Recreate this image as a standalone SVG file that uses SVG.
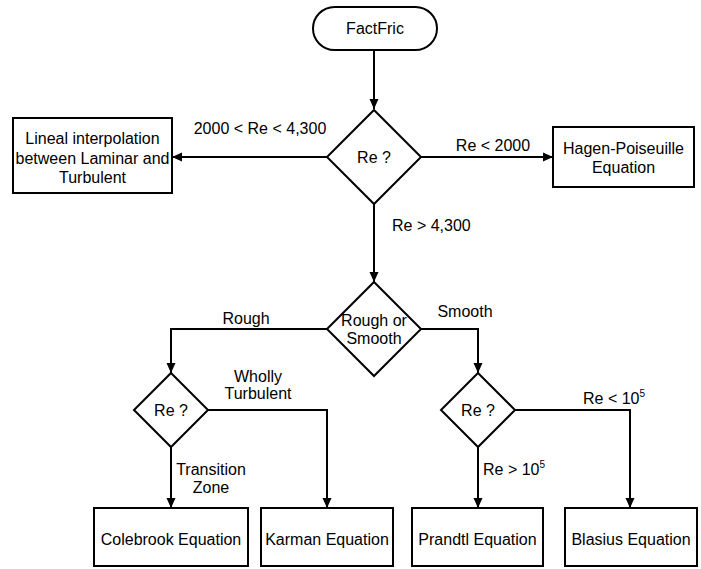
<svg xmlns="http://www.w3.org/2000/svg" width="701" height="569" viewBox="0 0 701 569">
<defs>
<style>
.s{fill:#fff;stroke:#000;stroke-width:2}
.c{fill:none;stroke:#000;stroke-width:2}
text{font-family:"Liberation Sans",Arial,sans-serif;font-size:16px;fill:#000}
.m{text-anchor:middle}
</style>
<marker id="ah" markerUnits="userSpaceOnUse" markerWidth="11" markerHeight="10" refX="10" refY="5" orient="auto">
<path d="M0,0.5 L10,5 L0,9.5 z" fill="#000"/>
</marker>
</defs>
<rect width="701" height="569" fill="#fff"/>
<g id="connectors">
<path class="c" d="M374,50 V109" marker-end="url(#ah)"/>
<path class="c" d="M327,157 H172" marker-end="url(#ah)"/>
<path class="c" d="M421,157 H553" marker-end="url(#ah)"/>
<path class="c" d="M374,204 V282" marker-end="url(#ah)"/>
<path class="c" d="M327,329 H171 V373" marker-end="url(#ah)"/>
<path class="c" d="M421,329 H478 V373" marker-end="url(#ah)"/>
<path class="c" d="M171,447 V508" marker-end="url(#ah)"/>
<path class="c" d="M208,410 H327 V508" marker-end="url(#ah)"/>
<path class="c" d="M478,447 V508" marker-end="url(#ah)"/>
<path class="c" d="M514,410 H630 V508" marker-end="url(#ah)"/>
<text x="260" y="134" class="m">2000 &lt; Re &lt; 4,300</text>
<text x="493" y="151" class="m">Re &lt; 2000</text>
<text x="392" y="231">Re &gt; 4,300</text>
<text x="246" y="324" class="m">Rough</text>
<text x="465" y="317" class="m">Smooth</text>
<text x="258" y="382" class="m">Wholly</text>
<text x="258" y="399" class="m">Turbulent</text>
<text x="211" y="475" class="m">Transition</text>
<text x="211" y="493" class="m">Zone</text>
<text x="483" y="475">Re &gt; 10<tspan font-size="10" dy="-7">5</tspan></text>
<text x="583" y="404">Re &lt; 10<tspan font-size="10" dy="-7">5</tspan></text>
</g>
<g id="start">
<rect class="s" x="313" y="7" width="124" height="43" rx="21.5"/>
<text x="375" y="34" class="m">FactFric</text>
</g>
<g id="re1">
<polygon class="s" points="374,110 421,157 374,204 327,157"/>
<text x="374" y="163" class="m">Re ?</text>
</g>
<g id="lineal">
<rect class="s" x="13" y="118" width="159" height="75"/>
<text x="92.5" y="144" class="m">Lineal interpolation</text>
<text x="92.5" y="164" class="m">between Laminar and</text>
<text x="92.5" y="183" class="m">Turbulent</text>
</g>
<g id="hagen">
<rect class="s" x="553" y="127" width="141" height="60"/>
<text x="623.5" y="154" class="m">Hagen-Poiseuille</text>
<text x="623.5" y="173" class="m">Equation</text>
</g>
<g id="rough-smooth">
<polygon class="s" points="374,282 421,329 374,376 327,329"/>
<text x="374" y="326" class="m">Rough or</text>
<text x="374" y="344" class="m">Smooth</text>
</g>
<g id="re2">
<polygon class="s" points="171,373 208,410 171,447 134,410"/>
<text x="171" y="416" class="m">Re ?</text>
</g>
<g id="re3">
<polygon class="s" points="478,373 515,410 478,447 441,410"/>
<text x="478" y="416" class="m">Re ?</text>
</g>
<g id="colebrook">
<rect class="s" x="94" y="508" width="154" height="58"/>
<text x="171" y="545" class="m">Colebrook Equation</text>
</g>
<g id="karman">
<rect class="s" x="261" y="508" width="132" height="58"/>
<text x="327" y="545" class="m">Karman Equation</text>
</g>
<g id="prandtl">
<rect class="s" x="412" y="508" width="131" height="58"/>
<text x="477.5" y="545" class="m">Prandtl Equation</text>
</g>
<g id="blasius">
<rect class="s" x="565" y="508" width="132" height="58"/>
<text x="631" y="545" class="m">Blasius Equation</text>
</g>
</svg>
